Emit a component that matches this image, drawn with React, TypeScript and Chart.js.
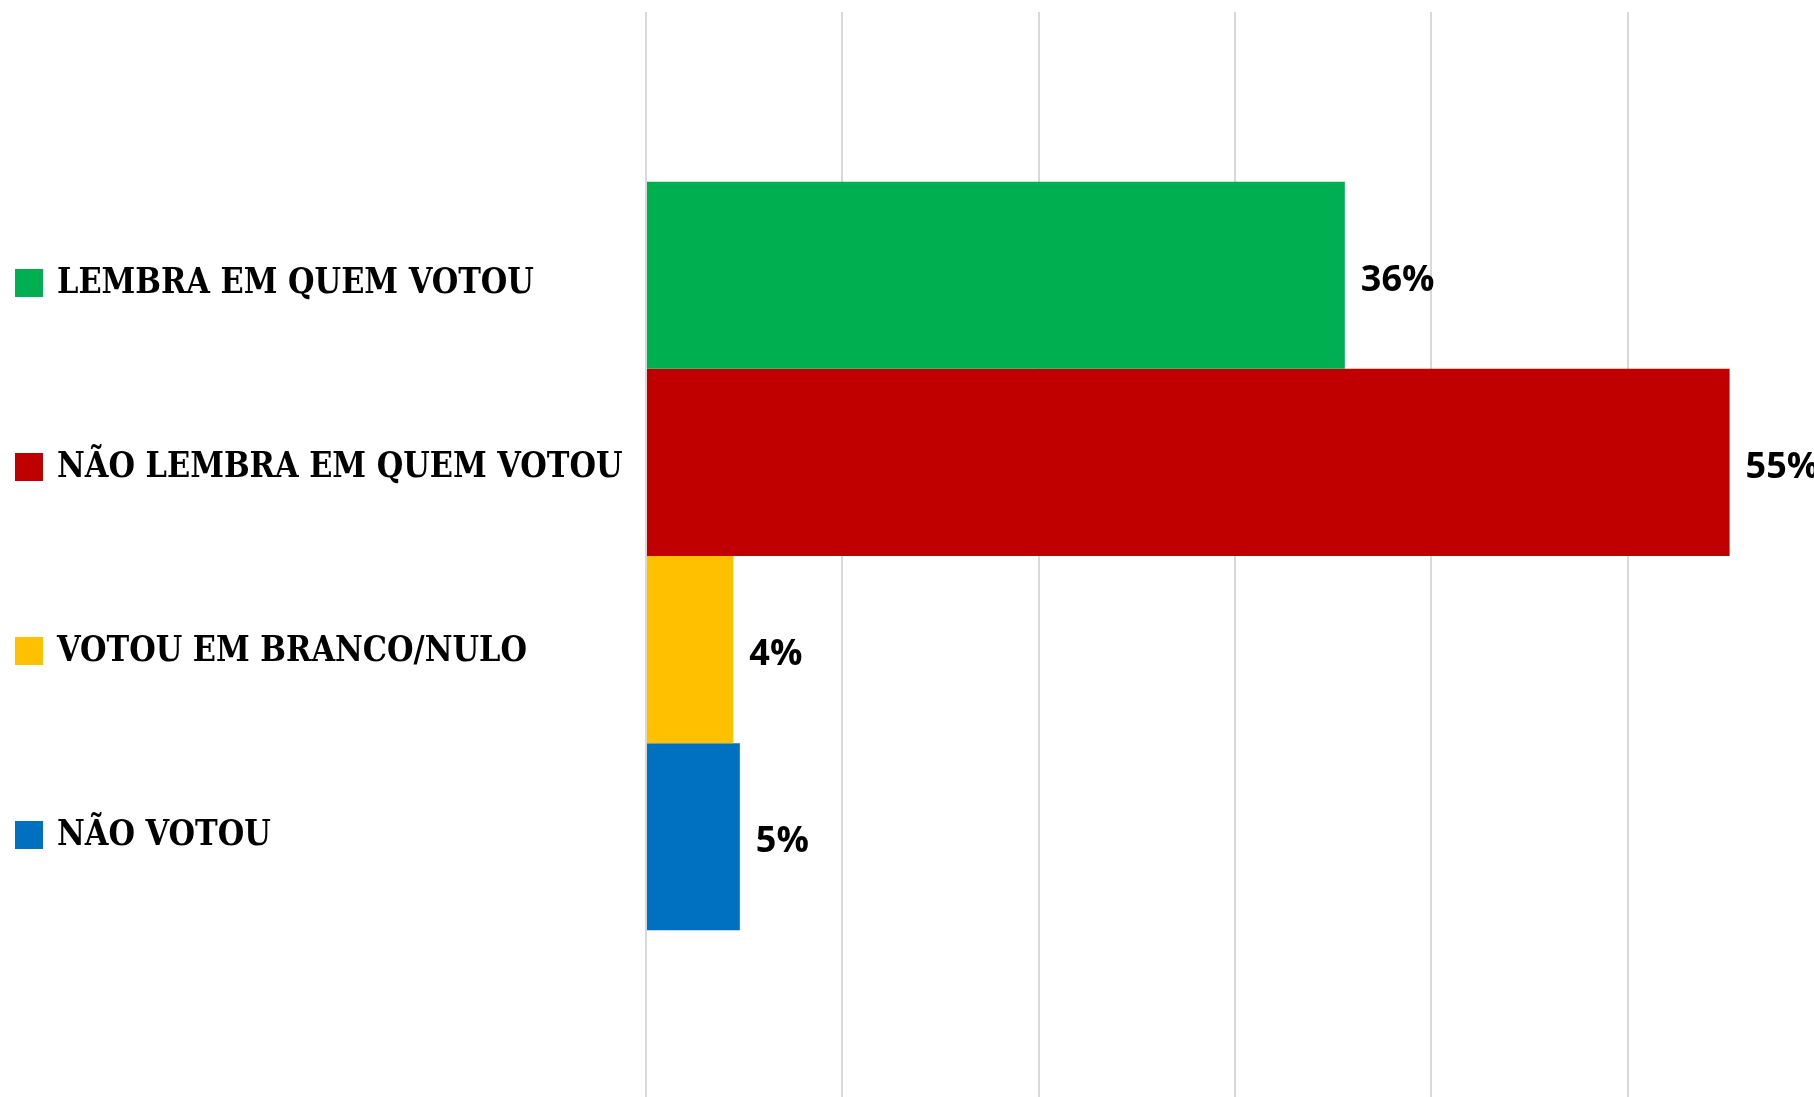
import React, { useEffect, useRef } from "react";
import { Chart, registerables } from "chart.js";

Chart.register(...registerables);

const categories = [
  "LEMBRA EM QUEM VOTOU",
  "NÃO LEMBRA EM QUEM VOTOU",
  "VOTOU EM BRANCO/NULO",
  "NÃO VOTOU",
];
const values = [35.6, 55.2, 4.45, 4.78];
const colors = ["#00B050", "#C00000", "#FFC000", "#0070C0"];
const xTicks = [0, 10, 20, 30, 40, 50];

const W = 1814;
const H = 1100;

const legendPlugin = {
  id: "sideLegend",
  afterDraw(chart: any) {
    const { ctx, chartArea } = chart;
    const n = chart.data.datasets.length;
    const cy = (chartArea.top + chartArea.bottom) / 2 + 3;
    ctx.save();
    chart.data.datasets.forEach((ds: any, i: number) => {
      const y = cy + (i - (n - 1) / 2) * 184;
      ctx.fillStyle = ds.backgroundColor;
      ctx.fillRect(15, y - 14, 28, 28);
      ctx.save();
      ctx.font = "bold 36px 'DejaVu Serif Condensed', 'DejaVu Serif', serif";
      ctx.fillStyle = "#000";
      ctx.textBaseline = "middle";
      ctx.textAlign = "left";
      ctx.translate(57, y + 1);
      ctx.scale(0.94, 1);
      ctx.fillText(ds.label, 0, 0);
      ctx.restore();
    });
    ctx.restore();
  },
};

const valueLabelPlugin = {
  id: "valueLabels",
  afterDatasetsDraw(chart: any) {
    const { ctx } = chart;
    ctx.save();
    ctx.font = "bold 36px 'Open Sans', 'Noto Sans', sans-serif";
    ctx.fillStyle = "#000";
    ctx.textBaseline = "middle";
    ctx.textAlign = "left";
    chart.data.datasets.forEach((ds: any, i: number) => {
      const meta = chart.getDatasetMeta(i);
      meta.data.forEach((el: any, j: number) => {
        const v = ds.data[j];
        ctx.fillText(Math.round(v) + "%", el.x + 16, el.y + 5);
      });
    });
    ctx.restore();
  },
};

export default function App() {
  const ref = useRef<HTMLCanvasElement>(null);

  useEffect(() => {
    if (!ref.current) return;
    const chart = new Chart(ref.current, {
      type: "bar",
      data: {
        labels: [""],
        datasets: categories.map((c, i) => ({
          label: c,
          data: [values[i]],
          backgroundColor: colors[i],
          borderWidth: 0,
          barPercentage: 1,
          categoryPercentage: 0.688,
        })),
      },
      options: {
        indexAxis: "y",
        responsive: false,
        animation: false,
        devicePixelRatio: 1,
        layout: { padding: { left: 646, top: 12, right: 0, bottom: 0 } },
        plugins: {
          legend: { display: false },
          tooltip: { enabled: false },
          title: { display: false },
        },
        scales: {
          x: {
            min: 0,
            max: 59.5,
            afterBuildTicks: (axis: any) => {
              axis.ticks = xTicks.map((v) => ({ value: v }));
            },
            ticks: { display: false },
            grid: { color: "#D9D9D9", lineWidth: 2, drawTicks: false },
            border: { display: false },
          },
          y: {
            display: false,
            grid: { display: false },
          },
        },
      },
      plugins: [legendPlugin, valueLabelPlugin],
    } as any);
    return () => chart.destroy();
  }, []);

  return (
    <div
      style={{
        position: "absolute",
        left: 0,
        top: 0,
        width: W,
        height: 1097,
        overflow: "hidden",
        background: "#fff",
      }}
    >
      <canvas ref={ref} width={W} height={H} style={{ width: W, height: H, display: "block" }} />
    </div>
  );
}
